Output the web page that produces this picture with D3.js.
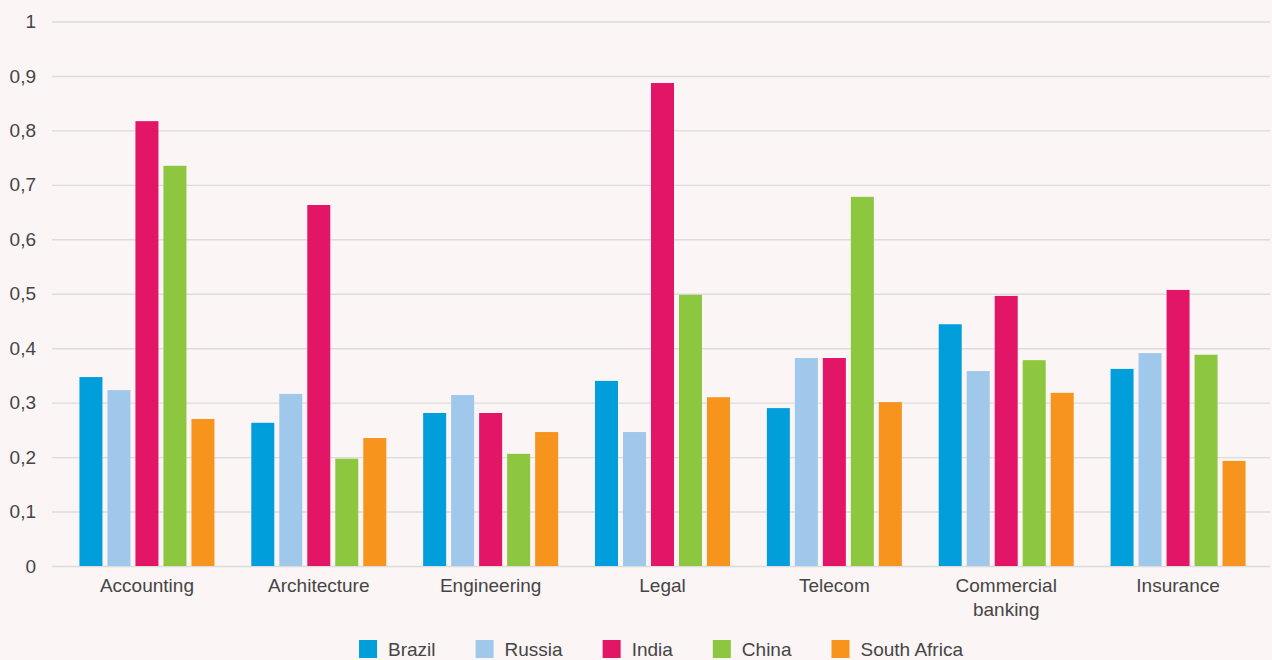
<!DOCTYPE html>
<html>
<head>
<meta charset="utf-8">
<script src="https://cdn.jsdelivr.net/npm/d3@7"></script>
<style>
  body { margin: 0; background: #fbf5f5; }
  svg { display: block; font-family: "Liberation Sans", Arial, sans-serif; }
  .axis text { fill: #454545; font-size: 19px; }
  .grid line { stroke: #dcdcdc; stroke-width: 1.4; }
</style>
</head>
<body>
<script>
// categories and series
var categories = ["Accounting", "Architecture", "Engineering", "Legal", "Telecom", "Commercial banking", "Insurance"];
var series = ["Brazil", "Russia", "India", "China", "South Africa"];
var colors = ["#009fdb", "#9fc8ea", "#e31566", "#8dc63f", "#f7941d"];

// values, one array per country
var brazil = [0.347, 0.263, 0.281, 0.340, 0.290, 0.444, 0.362];
var russia = [0.323, 0.316, 0.314, 0.246, 0.382, 0.358, 0.391];
var india = [0.817, 0.663, 0.281, 0.887, 0.382, 0.496, 0.507];
var china = [0.735, 0.197, 0.206, 0.498, 0.678, 0.378, 0.388];
var southAfrica = [0.270, 0.235, 0.246, 0.310, 0.301, 0.318, 0.193];
var values = [brazil, russia, india, china, southAfrica];

var yTicks = [0, 0.1, 0.2, 0.3, 0.4, 0.5, 0.6, 0.7, 0.8, 0.9, 1];

var w = 1272;
var h = 660;
var gridLeft = 52;
var gridRight = 1270;

var svg = d3.select("body").append("svg")
  .attr("width", w)
  .attr("height", h);

var x0 = d3.scaleBand()
  .domain(categories)
  .range([61, 1264])
  .paddingInner(0.2145)
  .paddingOuter(0.1073);

var x1 = d3.scaleBand()
  .domain(series)
  .range([0, x0.bandwidth()])
  .paddingInner(5 / 28);

var y = d3.scaleLinear()
  .domain([0, 1])
  .range([566, 21.5]);

// y axis + grid
var yAxis = d3.axisLeft(y)
  .tickValues(yTicks)
  .tickSize(-(gridRight - gridLeft))
  .tickPadding(16)
  .tickFormat(function(d) { return d3.format("")(+d.toFixed(1)).replace(".", ","); });

svg.append("g")
  .attr("class", "axis grid")
  .attr("transform", "translate(" + gridLeft + ",0)")
  .call(yAxis)
  .call(function(g) { g.select(".domain").remove(); });

// bars
var groups = svg.selectAll(".cat")
  .data(categories)
  .enter()
  .append("g")
  .attr("class", "cat")
  .attr("transform", function(d) { return "translate(" + x0(d) + ",0)"; });

groups.selectAll("rect")
  .data(function(d, i) {
    return series.map(function(s, j) { return { s: s, v: values[j][i], c: colors[j] }; });
  })
  .enter()
  .append("rect")
  .attr("x", function(d) { return x1(d.s); })
  .attr("y", function(d) { return y(d.v); })
  .attr("width", x1.bandwidth())
  .attr("height", function(d) { return y(0) - y(d.v); })
  .attr("fill", function(d) { return d.c; });

// x axis
var xAxis = d3.axisBottom(x0).tickSize(0).tickPadding(13);
svg.append("g")
  .attr("class", "axis")
  .attr("transform", "translate(0," + y(0) + ")")
  .call(xAxis)
  .call(function(g) { g.select(".domain").remove(); })
  .selectAll(".tick text")
  .each(function(d) {
    var words = d.split(" ");
    if (words.length < 2) return;
    var t = d3.select(this);
    var yy = t.attr("y");
    t.text(null);
    words.forEach(function(wd, k) {
      t.append("tspan")
        .attr("x", 0)
        .attr("y", yy)
        .attr("dy", (0.71 + k * 1.22) + "em")
        .text(wd);
    });
  });

// legend
var legend = svg.append("g").attr("class", "axis");
var items = legend.selectAll("g")
  .data(series)
  .enter()
  .append("g");

items.append("rect")
  .attr("width", 18)
  .attr("height", 18)
  .attr("y", 640)
  .attr("fill", function(d, i) { return colors[i]; });

items.append("text")
  .attr("x", 29)
  .attr("y", 656)
  .text(function(d) { return d; });

var gap = 40;
var pos = 0;
var offsets = [];
items.each(function() {
  offsets.push(pos);
  var tw = d3.select(this).select("text").node().getComputedTextLength();
  pos += 29 + tw + gap;
});
var total = pos - gap;
var startX = (gridLeft + gridRight) / 2 - total / 2;
items.attr("transform", function(d, i) { return "translate(" + (startX + offsets[i]) + ",0)"; });
</script>
</body>
</html>
